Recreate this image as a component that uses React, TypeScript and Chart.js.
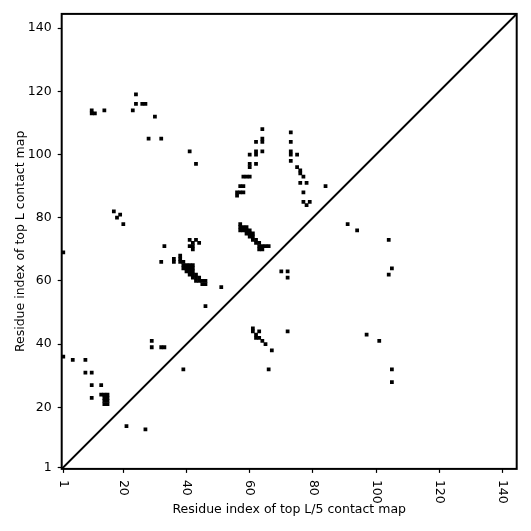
import { useEffect, useRef } from "react";
import { Chart, registerables } from "chart.js";

Chart.register(...registerables);

// Residue pairs (x = top L/5 map index, y = top L map index), grouped by region
const contactX = [
  // upper left
  24, 24, 26, 27, 10, 10, 11, 14, 23, 30, 28, 32, 41, 43,
  17, 19, 18, 20,
  // left branch of the peak
  64, 64, 64, 62, 64, 62, 62, 60, 60, 60, 62, 58, 59, 60, 57, 58, 56, 57, 58, 56,
  // right branch of the peak
  73, 73, 73, 73, 75, 73, 75, 76, 76, 77, 76, 78, 77, 77, 78, 79, 84,
  // far right
  91, 94, 104, 105, 104, 97, 101, 105, 105,
  // upper band
  57, 57, 58, 59, 57, 58, 59, 60, 59, 60, 61, 60, 61, 61, 62, 62, 63, 63, 64, 65, 66, 63, 64,
  // middle cluster
  41, 43, 42, 44, 41, 42, 42, 33, 32, 36, 36, 38, 38,
  // lower band
  38, 39, 39, 40, 41, 42, 39, 40, 41, 42, 40, 41, 42, 41, 42, 43, 42, 43, 44, 43, 44, 45, 45, 46, 46,
  // misc
  51, 46, 70, 72, 72,
  // lower cluster
  61, 61, 63, 62, 62, 63, 64, 65, 67, 66, 72,
  // lower left
  1, 1, 4, 8, 8, 10, 10, 13, 10, 13, 14, 15, 14, 15, 14, 15, 14, 15, 21, 27, 29, 29, 32, 33, 39,
];

const contactY = [
  119, 116, 116, 116, 114, 113, 113, 114, 114, 112, 105, 105, 101, 97,
  82, 81, 80, 78,
  108, 105, 104, 104, 101, 101, 100, 100, 97, 96, 97, 93, 93, 93, 90, 90, 88, 88, 88, 87,
  107, 104, 101, 100, 100, 98, 96, 95, 94, 93, 91, 91, 88, 85, 84, 85, 90,
  78, 76, 73, 64, 62, 43, 41, 32, 28,
  78, 77, 77, 77, 76, 76, 76, 76, 75, 75, 75, 74, 74, 73, 73, 72, 72, 71, 71, 71, 71, 70, 70,
  73, 73, 72, 72, 71, 71, 70, 71, 66, 67, 66, 68, 67,
  66, 66, 65, 65, 65, 65, 64, 64, 64, 64, 63, 63, 63, 62, 62, 62, 61, 61, 61, 60, 60, 60, 59, 59, 60,
  58, 52, 63, 63, 61,
  45, 44, 44, 43, 42, 42, 41, 40, 38, 32, 44,
  69, 36, 35, 35, 31, 31, 27, 27, 23, 24, 24, 24, 23, 23, 22, 22, 21, 21, 14, 13, 41, 39, 39, 39, 32,
];

const tickValues = [1, 20, 40, 60, 80, 100, 120, 140];
const axisMin = 0.5;
const axisMax = 144.5;
const xTitle = "Residue index of top L/5 contact map";
const yTitle = "Residue index of top L contact map";

const FONT = "'DejaVu Sans', 'Liberation Sans', sans-serif";

export default function App() {
  const ref = useRef<HTMLCanvasElement>(null);

  useEffect(() => {
    document.body.style.margin = "0";
    const canvas = ref.current;
    if (!canvas) return;

    const points = contactX.map((x, i) => ({ x, y: contactY[i] }));

    // half-diagonal of one residue cell, slightly enlarged so neighbouring cells merge
    const cellRadius = (ctx: any) => {
      const s = ctx.chart.scales.x;
      if (!s) return 2.5;
      return (Math.abs(s.getPixelForValue(2) - s.getPixelForValue(1)) + 0.6) / Math.SQRT2;
    };

    const framePlugin = {
      id: "frameAndXLabels",
      afterDraw(chart: any) {
        const { ctx, chartArea: a, scales } = chart;
        ctx.save();
        ctx.strokeStyle = "#000";
        ctx.lineWidth = 2;
        ctx.strokeRect(a.left, a.top, a.right - a.left, a.bottom - a.top);
        ctx.fillStyle = "#000";
        ctx.font = `12.5px ${FONT}`;
        ctx.textAlign = "left";
        ctx.textBaseline = "middle";
        for (const t of scales.x.ticks) {
          const px = scales.x.getPixelForValue(t.value);
          ctx.save();
          ctx.translate(px, a.bottom + 11);
          ctx.rotate(Math.PI / 2);
          ctx.fillText(String(t.value), 0, 0);
          ctx.restore();
        }
        ctx.restore();
      },
    };

    const setTicks = (s: any) => {
      s.ticks = tickValues.map((v) => ({ value: v }));
    };

    const chart = new Chart(canvas, {
      type: "scatter",
      data: {
        datasets: [
          {
            data: points,
            backgroundColor: "#000",
            borderWidth: 0,
            pointStyle: "rect",
            radius: cellRadius,
            hoverRadius: cellRadius,
          } as any,
          {
            data: [
              { x: axisMin, y: axisMin },
              { x: axisMax, y: axisMax },
            ],
            showLine: true,
            borderColor: "#000",
            borderWidth: 2,
            pointRadius: 0,
            hoverRadius: 0,
          } as any,
        ],
      },
      options: {
        animation: false,
        responsive: false,
        events: [],
        layout: { padding: { left: 0, top: 13.9, right: 14.3, bottom: 0 } },
        plugins: {
          legend: { display: false },
          tooltip: { enabled: false },
        },
        scales: {
          x: {
            type: "linear",
            min: axisMin,
            max: axisMax,
            afterBuildTicks: setTicks,
            afterFit: (s: any) => {
              s.height = 62.1;
            },
            border: { display: false },
            grid: {
              display: true,
              drawOnChartArea: false,
              drawTicks: true,
              tickLength: 4,
              tickColor: "#000",
              tickWidth: 1.2,
            },
            ticks: { display: false },
            title: {
              display: true,
              text: xTitle,
              color: "#000",
              font: { family: FONT, size: 12.5 },
              padding: { top: 0, bottom: 13.5 },
            },
          },
          y: {
            type: "linear",
            min: axisMin,
            max: axisMax,
            afterBuildTicks: setTicks,
            afterFit: (s: any) => {
              s.width = 61.7;
            },
            border: { display: false },
            grid: {
              display: true,
              drawOnChartArea: false,
              drawTicks: true,
              tickLength: 4,
              tickColor: "#000",
              tickWidth: 1.2,
            },
            ticks: {
              color: "#000",
              font: { family: FONT, size: 12.5 },
              padding: 6,
            },
            title: {
              display: true,
              text: yTitle,
              color: "#000",
              font: { family: FONT, size: 12.5 },
              padding: { top: 13, bottom: 0 },
            },
          },
        },
      },
      plugins: [framePlugin],
    });

    return () => chart.destroy();
  }, []);

  return <canvas ref={ref} width={531} height={531} style={{ display: "block" }} />;
}
